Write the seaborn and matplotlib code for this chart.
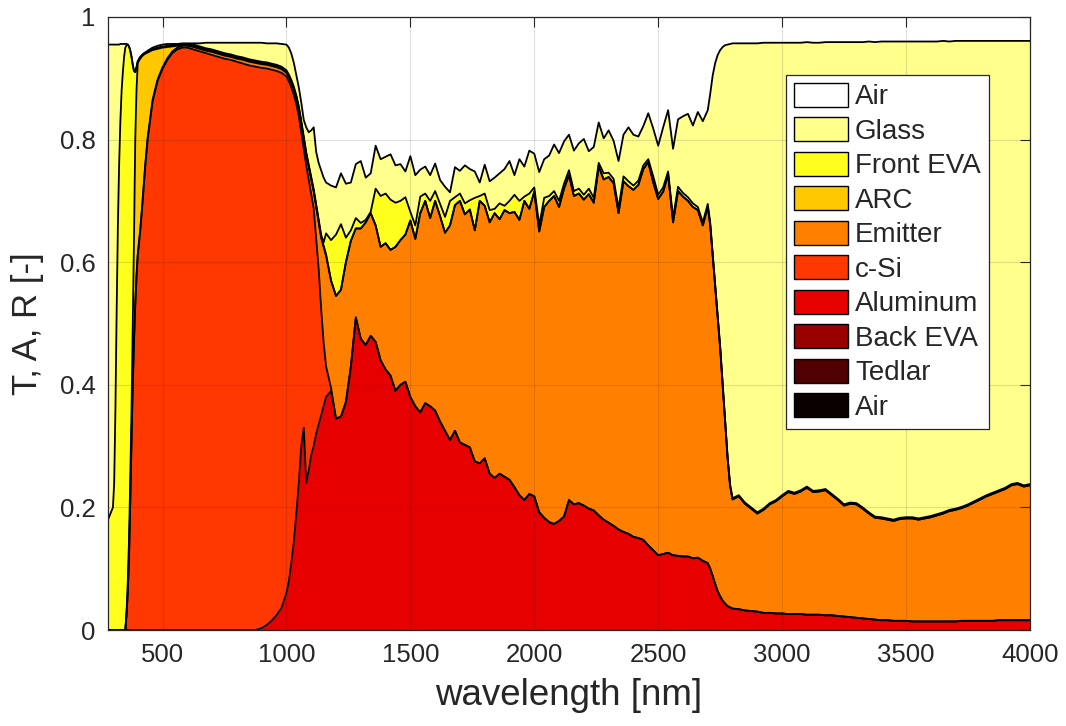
import numpy as np
import matplotlib
matplotlib.use("Agg")
import matplotlib.pyplot as plt
from matplotlib.patches import Patch
import seaborn as sns

# ---------------------------------------------------------------
# Spectral sampling grid [nm]
# ---------------------------------------------------------------
wl_uv = [280, 290, 300, 305, 310, 315, 320, 325, 330, 335, 340, 345,
         350, 355, 360, 365, 370, 375, 380, 385, 390, 395, 400]
wl_vis = [410, 420, 430, 440, 460, 480, 500, 520, 540, 560, 580, 600,
          625, 650, 675, 700, 725, 750, 775, 800, 825, 850, 875, 900,
          920, 940, 960, 980]
wl_edge = list(range(1000, 1161, 10))
wl_ir = list(range(1180, 2701, 20))
wl_drop = list(range(2710, 2801, 10))
wl_far = list(range(2825, 4001, 25))

# ---------------------------------------------------------------
# Cumulative absorptance (sum of all layers from the rear up to and
# including the named layer).  Back EVA, Tedlar and transmission are 0.
# ---------------------------------------------------------------
top_aluminum = [
    # UV
    0, 0, 0, 0, 0, 0, 0, 0, 0, 0, 0, 0, 0, 0, 0, 0, 0, 0, 0, 0, 0, 0, 0,
    # VIS
    0, 0, 0, 0, 0, 0, 0, 0, 0, 0, 0, 0, 0, 0, 0, 0, 0, 0, 0, 0, 0, 0, 0,
    0.003, 0.008, 0.015, 0.024, 0.036,
    # band edge
    0.06, 0.08, 0.11, 0.145, 0.19, 0.24, 0.30, 0.33, 0.24, 0.26, 0.285,
    0.30, 0.32, 0.335, 0.35, 0.365, 0.38,
    # IR
    0.39, 0.345, 0.348, 0.372, 0.43, 0.51, 0.475, 0.465, 0.48, 0.47,
    0.44, 0.425, 0.415, 0.39, 0.40, 0.405, 0.38, 0.365, 0.355, 0.37,
    0.365, 0.358, 0.34, 0.325, 0.31, 0.325, 0.306, 0.302, 0.298, 0.275,
    0.272, 0.28, 0.255, 0.248, 0.255, 0.25, 0.245, 0.233, 0.22, 0.212,
    0.222, 0.218, 0.192, 0.183, 0.176, 0.173, 0.178, 0.185, 0.212, 0.205,
    0.207, 0.203, 0.198, 0.195, 0.187, 0.18, 0.175, 0.17, 0.164, 0.16,
    0.157, 0.152, 0.15, 0.147, 0.138, 0.13, 0.122, 0.124, 0.126, 0.122,
    0.121, 0.12, 0.12, 0.117, 0.118, 0.113, 0.109,
    # drop
    0.10, 0.088, 0.075, 0.063, 0.055, 0.048, 0.043, 0.039, 0.037, 0.035,
    # far IR
    0.034, 0.032, 0.031, 0.03, 0.028, 0.028, 0.027, 0.027, 0.026, 0.026,
    0.026, 0.025, 0.025, 0.025, 0.024, 0.024, 0.023, 0.022, 0.021, 0.02,
    0.019, 0.018, 0.017, 0.016, 0.016, 0.015, 0.015, 0.015, 0.014, 0.014,
    0.014, 0.014, 0.014, 0.014, 0.014, 0.014, 0.015, 0.015, 0.015, 0.015,
    0.015, 0.015, 0.016, 0.016, 0.016, 0.016, 0.016, 0.016,
]

top_csi = [
    0, 0, 0, 0, 0, 0, 0, 0, 0, 0, 0, 0, 0, 0.025, 0.06, 0.12, 0.21, 0.31,
    0.40, 0.47, 0.53, 0.575, 0.61,
    0.65, 0.70, 0.755, 0.80, 0.862, 0.895, 0.915, 0.93, 0.941, 0.947, 0.95,
    0.95, 0.947, 0.944, 0.941, 0.938, 0.935, 0.932, 0.93, 0.927, 0.924,
    0.921, 0.919, 0.917, 0.916, 0.914, 0.912, 0.909,
    0.903, 0.895, 0.885, 0.873, 0.858, 0.838, 0.812, 0.785, 0.758, 0.735,
    0.712, 0.688, 0.64, 0.59, 0.525, 0.47, 0.43,
    0.395, 0.345, 0.348, 0.372, 0.43, 0.51, 0.475, 0.465, 0.48, 0.47,
    0.44, 0.425, 0.415, 0.39, 0.40, 0.405, 0.38, 0.365, 0.355, 0.37,
    0.365, 0.358, 0.34, 0.325, 0.31, 0.325, 0.306, 0.302, 0.298, 0.275,
    0.272, 0.28, 0.255, 0.248, 0.255, 0.25, 0.245, 0.233, 0.22, 0.212,
    0.222, 0.218, 0.192, 0.183, 0.176, 0.173, 0.178, 0.185, 0.212, 0.205,
    0.207, 0.203, 0.198, 0.195, 0.187, 0.18, 0.175, 0.17, 0.164, 0.16,
    0.157, 0.152, 0.15, 0.147, 0.138, 0.13, 0.122, 0.124, 0.126, 0.122,
    0.121, 0.12, 0.12, 0.117, 0.118, 0.113, 0.109,
    0.10, 0.088, 0.075, 0.063, 0.055, 0.048, 0.043, 0.039, 0.037, 0.035,
    0.034, 0.032, 0.031, 0.03, 0.028, 0.028, 0.027, 0.027, 0.026, 0.026,
    0.026, 0.025, 0.025, 0.025, 0.024, 0.024, 0.023, 0.022, 0.021, 0.02,
    0.019, 0.018, 0.017, 0.016, 0.016, 0.015, 0.015, 0.015, 0.014, 0.014,
    0.014, 0.014, 0.014, 0.014, 0.014, 0.014, 0.015, 0.015, 0.015, 0.015,
    0.015, 0.015, 0.016, 0.016, 0.016, 0.016, 0.016, 0.016,
]

top_emitter = [
    0, 0, 0, 0, 0, 0, 0, 0, 0, 0, 0, 0, 0, 0.027, 0.063, 0.123, 0.213,
    0.313, 0.403, 0.473, 0.533, 0.578, 0.613,
    0.653, 0.703, 0.758, 0.803, 0.865, 0.898, 0.918, 0.933, 0.944, 0.95,
    0.953, 0.953, 0.951, 0.948, 0.945, 0.943, 0.94, 0.937, 0.935, 0.932,
    0.93, 0.927, 0.925, 0.923, 0.922, 0.92, 0.918, 0.915,
    0.909, 0.902, 0.893, 0.882, 0.868, 0.85, 0.826, 0.80, 0.775, 0.755,
    0.735, 0.715, 0.69, 0.665, 0.64, 0.625, 0.61,
    0.57, 0.545, 0.555, 0.60, 0.635, 0.655, 0.655, 0.665, 0.68, 0.66,
    0.625, 0.631, 0.62, 0.625, 0.636, 0.645, 0.668, 0.638, 0.68, 0.70,
    0.672, 0.70, 0.675, 0.648, 0.66, 0.693, 0.70, 0.678, 0.686, 0.652,
    0.70, 0.692, 0.665, 0.68, 0.67, 0.685, 0.68, 0.682, 0.669, 0.70,
    0.687, 0.715, 0.65, 0.69, 0.70, 0.708, 0.69, 0.72, 0.742, 0.708,
    0.712, 0.702, 0.711, 0.697, 0.756, 0.735, 0.739, 0.729, 0.68, 0.732,
    0.724, 0.718, 0.726, 0.752, 0.763, 0.73, 0.703, 0.715, 0.743, 0.665,
    0.716, 0.707, 0.70, 0.69, 0.685, 0.66, 0.69,
    0.66, 0.61, 0.56, 0.51, 0.46, 0.40, 0.34, 0.28, 0.235, 0.213,
    0.218, 0.206, 0.198, 0.19, 0.196, 0.205, 0.21, 0.218, 0.225, 0.222,
    0.226, 0.232, 0.225, 0.226, 0.228, 0.22, 0.212, 0.203, 0.206, 0.205,
    0.198, 0.19, 0.183, 0.182, 0.18, 0.178, 0.181, 0.182, 0.182, 0.18,
    0.182, 0.184, 0.187, 0.19, 0.194, 0.196, 0.199, 0.203, 0.208, 0.213,
    0.218, 0.222, 0.226, 0.23, 0.236, 0.238, 0.234, 0.236,
]

top_arc = [
    0, 0, 0, 0, 0, 0, 0, 0, 0, 0, 0, 0, 0, 0.03, 0.08, 0.15, 0.25, 0.36,
    0.50, 0.64, 0.80, 0.88, 0.925,
    0.932, 0.937, 0.94, 0.942, 0.946, 0.948, 0.95, 0.951, 0.952, 0.953,
    0.955, 0.955, 0.953, 0.95, 0.947, 0.945, 0.942, 0.939, 0.937, 0.934,
    0.932, 0.929, 0.927, 0.925, 0.924, 0.922, 0.92, 0.917,
    0.911, 0.904, 0.895, 0.884, 0.87, 0.852, 0.828, 0.802, 0.777, 0.757,
    0.737, 0.717, 0.692, 0.667, 0.642, 0.627, 0.613,
    0.57, 0.545, 0.555, 0.60, 0.635, 0.655, 0.655, 0.665, 0.68, 0.66,
    0.625, 0.631, 0.62, 0.625, 0.636, 0.645, 0.668, 0.638, 0.68, 0.70,
    0.672, 0.70, 0.675, 0.648, 0.66, 0.693, 0.70, 0.678, 0.686, 0.652,
    0.70, 0.692, 0.665, 0.68, 0.67, 0.685, 0.68, 0.682, 0.669, 0.70,
    0.687, 0.715, 0.65, 0.69, 0.70, 0.708, 0.69, 0.72, 0.742, 0.708,
    0.712, 0.702, 0.711, 0.697, 0.756, 0.735, 0.739, 0.729, 0.68, 0.732,
    0.724, 0.718, 0.726, 0.752, 0.763, 0.73, 0.703, 0.715, 0.743, 0.665,
    0.716, 0.707, 0.70, 0.69, 0.685, 0.66, 0.69,
    0.66, 0.61, 0.56, 0.51, 0.46, 0.40, 0.34, 0.28, 0.235, 0.213,
    0.218, 0.206, 0.198, 0.19, 0.196, 0.205, 0.21, 0.218, 0.225, 0.222,
    0.226, 0.232, 0.225, 0.226, 0.228, 0.22, 0.212, 0.203, 0.206, 0.205,
    0.198, 0.19, 0.183, 0.182, 0.18, 0.178, 0.181, 0.182, 0.182, 0.18,
    0.182, 0.184, 0.187, 0.19, 0.194, 0.196, 0.199, 0.203, 0.208, 0.213,
    0.218, 0.222, 0.226, 0.23, 0.236, 0.238, 0.234, 0.236,
]

top_front_eva = [
    0.18, 0.19, 0.20, 0.24, 0.36, 0.52, 0.66, 0.76, 0.83, 0.88, 0.91,
    0.935, 0.95, 0.954, 0.955, 0.952, 0.945, 0.935, 0.922, 0.912, 0.91,
    0.918, 0.927,
    0.934, 0.939, 0.942, 0.944, 0.948, 0.95, 0.952, 0.953, 0.954, 0.955,
    0.956, 0.956, 0.955, 0.952, 0.949, 0.947, 0.944, 0.941, 0.939, 0.936,
    0.934, 0.931, 0.929, 0.927, 0.926, 0.924, 0.922, 0.919,
    0.913, 0.906, 0.897, 0.886, 0.872, 0.854, 0.83, 0.804, 0.779, 0.759,
    0.739, 0.719, 0.694, 0.669, 0.645, 0.632, 0.647,
    0.636, 0.645, 0.662, 0.64, 0.652, 0.672, 0.664, 0.669, 0.682, 0.72,
    0.708, 0.712, 0.702, 0.697, 0.70, 0.706, 0.682, 0.66, 0.707, 0.712,
    0.70, 0.716, 0.695, 0.674, 0.70, 0.706, 0.712, 0.696, 0.701, 0.705,
    0.708, 0.712, 0.685, 0.687, 0.696, 0.692, 0.70, 0.71, 0.70, 0.707,
    0.712, 0.722, 0.66, 0.705, 0.708, 0.716, 0.70, 0.728, 0.75, 0.716,
    0.72, 0.71, 0.72, 0.705, 0.762, 0.745, 0.746, 0.736, 0.688, 0.74,
    0.732, 0.725, 0.733, 0.758, 0.768, 0.74, 0.71, 0.722, 0.748, 0.672,
    0.723, 0.713, 0.706, 0.696, 0.69, 0.665, 0.695,
    0.664, 0.613, 0.563, 0.513, 0.463, 0.403, 0.343, 0.283, 0.238, 0.215,
    0.22, 0.208, 0.2, 0.192, 0.198, 0.207, 0.212, 0.22, 0.227, 0.224,
    0.228, 0.234, 0.227, 0.228, 0.23, 0.222, 0.214, 0.205, 0.208, 0.207,
    0.2, 0.192, 0.185, 0.184, 0.182, 0.18, 0.183, 0.184, 0.184, 0.182,
    0.184, 0.186, 0.189, 0.192, 0.196, 0.198, 0.201, 0.205, 0.21, 0.215,
    0.22, 0.224, 0.228, 0.232, 0.238, 0.24, 0.236, 0.238,
]

top_glass = [
    0.955, 0.955, 0.955, 0.955, 0.955, 0.955, 0.955, 0.955, 0.956, 0.956,
    0.956, 0.956, 0.956, 0.956, 0.955, 0.952, 0.945, 0.935, 0.922, 0.912,
    0.91, 0.918, 0.928,
    0.935, 0.939, 0.942, 0.945, 0.95, 0.953, 0.955, 0.956, 0.956, 0.956,
    0.957, 0.957, 0.957, 0.957, 0.958, 0.958, 0.958, 0.958, 0.958, 0.958,
    0.958, 0.958, 0.958, 0.958, 0.957, 0.957, 0.957, 0.956,
    0.955, 0.95, 0.94, 0.925, 0.905, 0.885, 0.86, 0.832, 0.82, 0.812,
    0.815, 0.82, 0.78, 0.762, 0.75, 0.738, 0.73,
    0.725, 0.722, 0.745, 0.728, 0.73, 0.76, 0.765, 0.738, 0.745, 0.79,
    0.768, 0.772, 0.776, 0.758, 0.76, 0.748, 0.773, 0.742, 0.751, 0.756,
    0.742, 0.761, 0.734, 0.723, 0.714, 0.755, 0.749, 0.758, 0.752, 0.748,
    0.73, 0.759, 0.732, 0.738, 0.745, 0.752, 0.765, 0.742, 0.768, 0.756,
    0.782, 0.777, 0.747, 0.768, 0.774, 0.792, 0.778, 0.797, 0.808, 0.782,
    0.794, 0.801, 0.781, 0.788, 0.828, 0.802, 0.815, 0.798, 0.765, 0.808,
    0.82, 0.808, 0.805, 0.822, 0.843, 0.818, 0.79, 0.82, 0.848, 0.785,
    0.833, 0.838, 0.842, 0.823, 0.845, 0.83, 0.848,
    0.875, 0.905, 0.925, 0.938, 0.946, 0.951, 0.954, 0.955, 0.956, 0.957,
    0.957, 0.957, 0.957, 0.957, 0.958, 0.958, 0.958, 0.958, 0.958, 0.958,
    0.958, 0.959, 0.958, 0.958, 0.959, 0.959, 0.959, 0.959, 0.959, 0.959,
    0.959, 0.96, 0.959, 0.96, 0.96, 0.96, 0.96, 0.96, 0.96, 0.96,
    0.96, 0.96, 0.96, 0.961, 0.96, 0.961, 0.961, 0.961, 0.961, 0.961,
    0.961, 0.961, 0.961, 0.961, 0.961, 0.961, 0.961, 0.961,
]

layer_names = ["Air", "Tedlar", "Back EVA", "Aluminum", "c-Si", "Emitter",
               "ARC", "Front EVA", "Glass", "Air"]
layer_colors = ["#0a0000", "#500000", "#9b0000", "#e60000", "#ff3700",
                "#ff8000", "#ffc800", "#ffff1e", "#ffff8c", "#ffffff"]

# ---------------------------------------------------------------
wl = np.array(wl_uv + wl_vis + wl_edge + wl_ir + wl_drop + wl_far, float)
tops = [np.asarray(t, float) for t in
        (top_aluminum, top_csi, top_emitter, top_arc, top_front_eva, top_glass)]
for t in tops:
    assert len(t) == len(wl), (len(t), len(wl))

# per-layer absorptance from the cumulative curves (rear -> front)
rear = np.zeros_like(wl)          # transmission, Tedlar and back EVA
layers = [rear, rear, rear]
prev = rear
for t in tops:
    layers.append(np.clip(t - prev, 0, None))
    prev = np.maximum(t, prev)
layers.append(1.0 - prev)          # reflectance

# ---------------------------------------------------------------
sns.set_theme(style="white")
plt.rcParams["font.family"] = ["Liberation Sans", "DejaVu Sans"]
ink = "#262626"

fig = plt.figure(figsize=(10.66, 7.26), dpi=100)
ax = fig.add_axes([0.1013, 0.1322, 0.8649, 0.8444])

ax.stackplot(wl, *layers, colors=layer_colors, linewidth=0, zorder=1)

# layer boundaries
boundaries = np.cumsum(np.vstack(layers), axis=0)[3:-1]
for b in boundaries:
    sns.lineplot(x=wl, y=b, color="black", linewidth=1.3, ax=ax,
                 estimator=None, sort=False, legend=False, zorder=2)

ax.set_xlim(280, 4000)
ax.set_ylim(0, 1)
ax.set_xticks(np.arange(500, 4001, 500))
ax.set_yticks([0, 0.2, 0.4, 0.6, 0.8, 1.0])
ax.set_yticklabels(["0", "0.2", "0.4", "0.6", "0.8", "1"])

ax.grid(True, color=ink, alpha=0.15, linewidth=0.8)
ax.set_axisbelow(False)
ax.tick_params(direction="in", length=7, width=0.8, top=True, right=True,
               colors=ink, labelsize=18.5, pad=9)
for tl in ax.get_xticklabels() + ax.get_yticklabels():
    tl.set_color(ink)
for s in ax.spines.values():
    s.set_color(ink)
    s.set_linewidth(0.9)
    s.set_zorder(4)

ax.set_xlabel("wavelength [nm]", fontsize=26.5, color=ink, labelpad=8)
ax.set_ylabel("T, A, R [-]", fontsize=25, color=ink, labelpad=11)

handles = [Patch(facecolor=c, edgecolor="black", linewidth=1.0, label=n)
           for n, c in zip(layer_names[::-1], layer_colors[::-1])]
leg = ax.legend(handles=handles, loc="upper left",
                bbox_to_anchor=(0.735, 0.906), fontsize=20,
                frameon=True, fancybox=False, framealpha=1,
                edgecolor=ink, borderpad=0.3, labelspacing=0.25,
                handlelength=1.95, handleheight=0.95, handletextpad=0.25,
                borderaxespad=0)
leg.get_frame().set_linewidth(0.9)
leg.set_zorder(5)

fig.savefig("out.png", dpi=100)
